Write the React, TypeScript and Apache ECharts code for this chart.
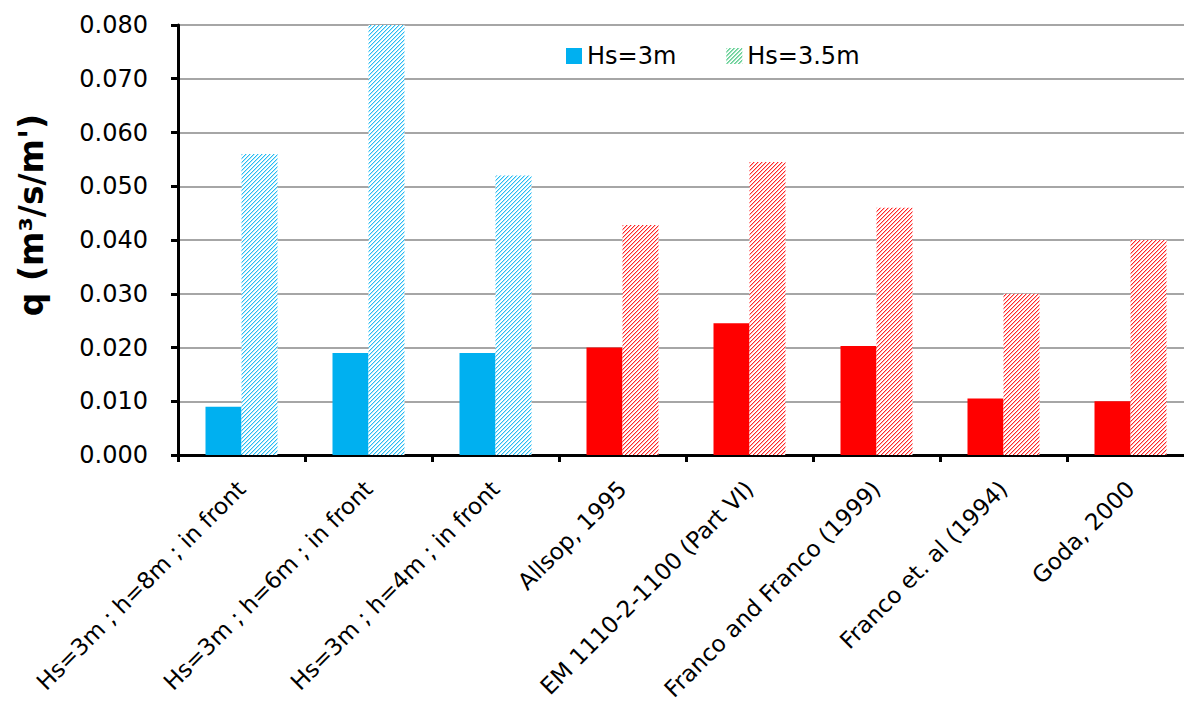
import React, { useEffect, useRef } from "react";
import * as echarts from "echarts";

const categories = [
  "Hs=3m ; h=8m ; in front",
  "Hs=3m ; h=6m ; in front",
  "Hs=3m ; h=4m ; in front",
  "Allsop, 1995",
  "EM 1110-2-1100 (Part VI)",
  "Franco and Franco (1999)",
  "Franco et. al (1994)",
  "Goda, 2000",
];
// which group each category belongs to: "model" (blue) or "formula" (red)
const groups = ["model", "model", "model", "formula", "formula", "formula", "formula", "formula"];
const hs3 = [0.009, 0.019, 0.019, 0.02, 0.0245, 0.0203, 0.0105, 0.01];
const hs35 = [0.056, 0.08, 0.052, 0.0428, 0.0545, 0.046, 0.03, 0.04];
const yTicks = [0, 0.01, 0.02, 0.03, 0.04, 0.05, 0.06, 0.07, 0.08];
const seriesNames = ["Hs=3m", "Hs=3.5m"];
const yTitle = "q (m³/s/m')";

const BLUE = "#00B0F0";
const RED = "#FF0000";

function hatch(r: number, g: number, b: number) {
  const N = 16;
  const c = document.createElement("canvas");
  c.width = N;
  c.height = N;
  const ctx = c.getContext("2d")!;
  const img = ctx.createImageData(N, N);
  for (let y = 0; y < N; y++) {
    for (let x = 0; x < N; x++) {
      const k = (x + y) % 4;
      let a = 0;
      if (k === 3) a = 0.85;
      else if (k === 0) a = 0.3;
      const i = (y * N + x) * 4;
      img.data[i] = Math.round(255 * (1 - a) + r * a);
      img.data[i + 1] = Math.round(255 * (1 - a) + g * a);
      img.data[i + 2] = Math.round(255 * (1 - a) + b * a);
      img.data[i + 3] = 255;
    }
  }
  ctx.putImageData(img, 0, 0);
  return {
    image: c.toDataURL(),
    repeat: "repeat",
    imageWidth: N,
    imageHeight: N,
  } as any;
}

export default function App() {
  const ref = useRef<HTMLDivElement>(null);
  useEffect(() => {
    if (!ref.current) return;
    const chart = echarts.init(ref.current, undefined, { renderer: "svg" });
    const blueHatch = hatch(0, 176, 240);
    const redHatch = hatch(255, 0, 0);
    const greenHatch = hatch(0, 176, 80);
    const font = "DejaVu Sans";
    chart.setOption({
      animation: false,
      backgroundColor: "#ffffff",
      textStyle: { fontFamily: font },
      legend: {
        left: 561,
        top: 39,
        itemWidth: 16,
        itemHeight: 16,
        itemGap: 50,
        textStyle: { fontSize: 24, color: "#000", fontFamily: font },
        data: [
          { name: seriesNames[0], icon: "rect", itemStyle: { color: BLUE } },
          { name: seriesNames[1], icon: "rect", itemStyle: { color: greenHatch } },
        ],
      },
      graphic: [
        {
          type: "text",
          x: 31,
          y: 215,
          rotation: Math.PI / 2,
          style: {
            text: yTitle,
            fontSize: 33,
            fontWeight: "bold",
            fontFamily: font,
            fill: "#000",
            align: "center",
            verticalAlign: "middle",
          },
        },
      ],
      grid: { left: 178, top: 25, right: 6, bottom: 255, containLabel: false },
      xAxis: {
        type: "category",
        data: categories,
        boundaryGap: true,
        axisLine: { show: true, lineStyle: { color: "#000", width: 3 } },
        axisTick: { show: true, length: 7, lineStyle: { color: "#000", width: 3 }, alignWithLabel: false },
        axisLabel: {
          rotate: 45,
          interval: 0,
          margin: 30,
          fontSize: 23,
          color: "#000",
          fontFamily: font,
        },
        splitLine: { show: false },
      },
      yAxis: {
        type: "value",
        min: 0,
        max: 0.08,
        interval: 0.01,
        axisLine: { show: true, lineStyle: { color: "#000", width: 3 } },
        axisTick: { show: true, length: 7, lineStyle: { color: "#000", width: 3 } },
        axisLabel: {
          fontSize: 24,
          color: "#000",
          margin: 30,
          fontFamily: font,
          formatter: (v: number) => {
            const t = yTicks.find((x) => Math.abs(x - v) < 1e-9);
            return (t ?? v).toFixed(3);
          },
        },
        splitLine: { show: true, lineStyle: { color: "#A6A6A6", width: 2 } },
      },
      series: [
        {
          name: seriesNames[0],
          type: "bar",
          barWidth: 36,
          barGap: "0%",
          itemStyle: { color: BLUE },
          data: hs3.map((v, i) => ({
            value: v,
            itemStyle: { color: groups[i] === "model" ? BLUE : RED },
          })),
        },
        {
          name: seriesNames[1],
          type: "bar",
          barWidth: 36,
          barGap: "0%",
          itemStyle: { color: greenHatch },
          data: hs35.map((v, i) => ({
            value: v,
            itemStyle: { color: groups[i] === "model" ? blueHatch : redHatch },
          })),
        },
      ],
    });
    return () => chart.dispose();
  }, []);
  return (
    <div style={{ position: "absolute", left: 0, top: 0, width: 1184, height: 710, overflow: "hidden", background: "#fff" }}>
      <div ref={ref} style={{ width: 1200, height: 710 }} />
    </div>
  );
}
